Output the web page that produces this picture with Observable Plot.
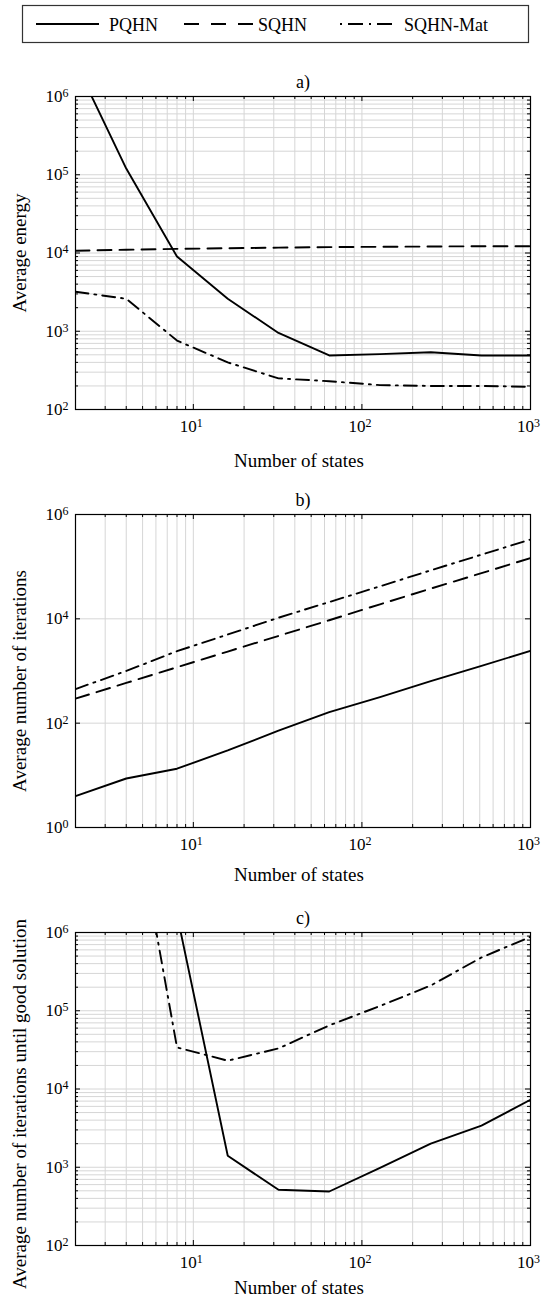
<!DOCTYPE html>
<html><head><meta charset="utf-8">
<script src="https://cdn.jsdelivr.net/npm/d3@7"></script>
<script src="https://cdn.jsdelivr.net/npm/@observablehq/plot@0.6"></script>
<style>
body{margin:0;background:#fff;}
#root{position:relative;width:541px;height:1315px;overflow:hidden;font-family:"Liberation Serif","DejaVu Serif","Times New Roman",Times,serif;background:#fff;}
#root svg{position:absolute;left:0;overflow:visible;}
#root svg text{font-family:"Liberation Serif","DejaVu Serif","Times New Roman",Times,serif;}
</style></head><body><div id="root"></div>
<script>
// ---- data ----
const seriesNames = ["PQHN", "SQHN", "SQHN-Mat"];
const states = [2, 4, 8, 16, 32, 64, 128, 256, 512, 1024];

const energyPQHN    = [2.7e6, 1.2e5, 9000, 2600, 950, 490, 510, 540, 490, 490];
const energySQHN    = [1.07e4, 1.1e4, 1.13e4, 1.15e4, 1.17e4, 1.19e4, 1.2e4, 1.21e4, 1.22e4, 1.22e4];
const energySQHNMat = [3200, 2600, 760, 400, 250, 230, 205, 200, 200, 195];

const iterPQHN    = [4, 8.7, 13.4, 30, 72, 163, 315, 640, 1250, 2500];
const iterSQHN    = [295, 590, 1180, 2360, 4700, 9400, 1.9e4, 3.8e4, 7.5e4, 1.5e5];
const iterSQHNMat = [450, 1000, 2400, 5000, 1.05e4, 2.1e4, 4.2e4, 8.5e4, 1.7e5, 3.4e5];

const goodPQHN    = [NaN, NaN, 1.7e6, 1400, 515, 490, 980, 2000, 3400, 7500];
const goodSQHNMat = [NaN, 1.4e8, 3.4e4, 2.3e4, 3.3e4, 6.5e4, 1.15e5, 2.1e5, 4.8e5, 9e5];

const xTicks = [10, 100, 1000];
const yTicksA = [1e2, 1e3, 1e4, 1e5, 1e6];
const yTicksB = [1, 1e2, 1e4, 1e6];
const yTicksC = [1e2, 1e3, 1e4, 1e5, 1e6];

// ---- styles ----
const FONT = "'Liberation Serif', 'DejaVu Serif', 'Times New Roman', Times, serif";
const dashes = {"PQHN": null, "SQHN": "14,8", "SQHN-Mat": "13,6,2,6"};
const legendDashes = {"PQHN": null, "SQHN": "15,12", "SQHN-Mat": "2,6,15,6"};

const root = document.getElementById("root");
const FL = 75, FR = 530, W = 541;

function decadeGrid(lo, hi) {
  const out = [];
  for (let e = Math.floor(Math.log10(lo)); e <= Math.ceil(Math.log10(hi)); e++)
    for (let k = 1; k < 10; k++) {
      const v = k * Math.pow(10, e);
      if (v >= lo * 0.999 && v <= hi * 1.001) out.push(v);
    }
  return out;
}
const pow = d => "10^" + Math.round(Math.log10(d));

function rows(arr) {
  return states.map((x, i) => ({x, y: arr[i]})).filter(d => isFinite(d.y));
}

function panel(o) {
  const marginTop = o.frameTop - o.top;
  const fw = FR - FL;
  const height = marginTop + o.frameH + o.marginBottom;
  const xgrid = decadeGrid(2, 1000);
  const ygrid = o.yminor ? decadeGrid(o.ydomain[0], o.ydomain[1]) : o.yticks;
  const xMinor = xgrid.filter(v => !xTicks.includes(v));
  const yMinor = o.yminor ? ygrid.filter(v => !o.yticks.includes(v)) : [];
  const grid = "#d6d6d6";
  const marks = [
    Plot.ruleX(xgrid, {x: d => d, stroke: grid, strokeWidth: 1}),
    Plot.ruleY(ygrid, {y: d => d, stroke: grid, strokeWidth: 1}),
    ...o.series.map(s => Plot.line(rows(s.values), {
      x: "x", y: "y", stroke: "#000", strokeWidth: 1.9,
      strokeDasharray: dashes[s.name], clip: true
    })),
    Plot.frame({stroke: "#000", strokeWidth: 1.2}),
    Plot.tickX(xTicks, {x: d => d, insetTop: o.frameH - 5, stroke: "#000"}),
    Plot.tickX(xTicks, {x: d => d, insetBottom: o.frameH - 5, stroke: "#000"}),
    Plot.tickX(xMinor, {x: d => d, insetTop: o.frameH - 3, stroke: "#000"}),
    Plot.tickX(xMinor, {x: d => d, insetBottom: o.frameH - 3, stroke: "#000"}),
    Plot.tickY(o.yticks, {y: d => d, insetRight: fw - 5, stroke: "#000"}),
    Plot.tickY(o.yticks, {y: d => d, insetLeft: fw - 5, stroke: "#000"}),
    Plot.tickY(yMinor, {y: d => d, insetRight: fw - 3, stroke: "#000"}),
    Plot.tickY(yMinor, {y: d => d, insetLeft: fw - 3, stroke: "#000"}),
    Plot.axisX({ticks: xTicks, tickSize: 0, tickPadding: 10, tickFormat: pow, dx: -2, fontSize: 17, label: null}),
    Plot.axisY({ticks: o.yticks, tickSize: 0, tickPadding: 7, tickFormat: pow, fontSize: 17, label: null}),
    Plot.text([o.title], {frameAnchor: "top", text: d => d, dy: -21, fontSize: 18}),
    Plot.text([o.ylabel], {frameAnchor: "left", text: d => d, textAnchor: "middle", rotate: -90, dx: -56, dy: o.ylabelDy, fontSize: 19}),
    Plot.text(["Number of states"], {frameAnchor: "bottom", text: d => d, dx: -4, dy: o.xlabelDy, fontSize: 19})
  ];
  const svg = Plot.plot({
    width: W, height,
    marginLeft: FL, marginRight: W - FR, marginTop, marginBottom: o.marginBottom,
    x: {type: "log", domain: [2, 1000]},
    y: {type: "log", domain: o.ydomain},
    style: {fontFamily: FONT, fontSize: "16px", color: "#000", background: "transparent"},
    marks
  });
  d3.select(svg).selectAll('g[aria-label$="tick label"] text').each(function() {
    const m = this.textContent.match(/^10\^(\d+)$/);
    if (!m) return;
    const s = d3.select(this);
    s.text(null);
    s.append("tspan").text("10");
    s.append("tspan").attr("dy", "-0.42em").attr("font-size", "12px").text(m[1]);
  });
  svg.style.top = o.top + "px";
  root.appendChild(svg);
}

panel({
  top: 52, frameTop: 96, frameH: 313, marginBottom: 62,
  ydomain: [1e2, 1e6], yticks: yTicksA, yminor: true,
  title: "a)", ylabel: "Average energy", ylabelDy: 0, xlabelDy: 57,
  series: [
    {name: "PQHN", values: energyPQHN},
    {name: "SQHN", values: energySQHN},
    {name: "SQHN-Mat", values: energySQHNMat}
  ]
});
panel({
  top: 470, frameTop: 514, frameH: 313, marginBottom: 62,
  ydomain: [1, 1e6], yticks: yTicksB, yminor: false,
  title: "b)", ylabel: "Average number of iterations", ylabelDy: 10, xlabelDy: 53,
  series: [
    {name: "PQHN", values: iterPQHN},
    {name: "SQHN", values: iterSQHN},
    {name: "SQHN-Mat", values: iterSQHNMat}
  ]
});
panel({
  top: 890, frameTop: 932, frameH: 313, marginBottom: 70,
  ydomain: [1e2, 1e6], yticks: yTicksC, yminor: true,
  title: "c)", ylabel: "Average number of iterations until good solution", ylabelDy: 15, xlabelDy: 48,
  series: [
    {name: "PQHN", values: goodPQHN},
    {name: "SQHN-Mat", values: goodSQHNMat}
  ]
});

// ---- legend ----
const leg = d3.create("svg").attr("width", W).attr("height", 48)
  .style("top", "0px").style("font-family", FONT);
leg.append("rect").attr("x", 22.5).attr("y", 5.5).attr("width", 506).attr("height", 37)
  .attr("fill", "#fff").attr("stroke", "#333").attr("stroke-width", 1.2);
const legItems = [
  {name: seriesNames[0], x1: 36, x2: 99, tx: 109},
  {name: seriesNames[1], x1: 184, x2: 256, tx: 258},
  {name: seriesNames[2], x1: 340, x2: 392, tx: 404}
];
for (const it of legItems) {
  leg.append("line").attr("x1", it.x1).attr("x2", it.x2).attr("y1", 24).attr("y2", 24)
    .attr("stroke", "#000").attr("stroke-width", 1.9)
    .attr("stroke-dasharray", legendDashes[it.name]);
  leg.append("text").attr("x", it.tx).attr("y", 30.5).attr("font-size", 18).attr("fill", "#000")
    .style("font-family", FONT).text(it.name);
}
root.appendChild(leg.node());
</script>
</body></html>
